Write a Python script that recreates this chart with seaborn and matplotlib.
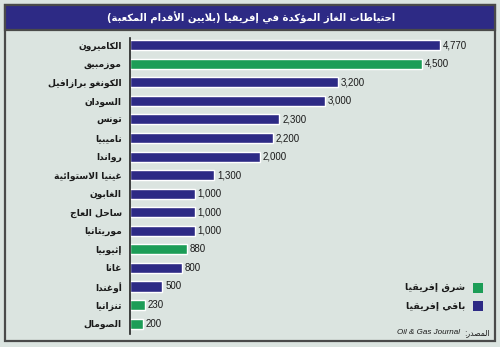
import matplotlib
matplotlib.use("Agg")
import matplotlib.pyplot as plt
import seaborn as sns
import pandas as pd
from matplotlib.patches import Rectangle

# ---------------- data ----------------
title = "احتياطات الغاز المؤكدة في إفريقيا (بلايين الأقدام المكعبة)"
countries = ["الكاميرون", "موزمبيق", "الكونغو برازافيل", "السودان", "تونس", "ناميبيا",
             "رواندا", "غينيا الاستوائية", "الغابون", "ساحل العاج", "موريتانيا",
             "إثيوبيا", "غانا", "أوغندا", "تنزانيا", "الصومال"]
reserves = [4770, 4500, 3200, 3000, 2300, 2200, 2000, 1300, 1000, 1000, 1000,
            880, 800, 500, 230, 200]
region = ["rest", "east", "rest", "rest", "rest", "rest", "rest", "rest", "rest",
          "rest", "rest", "east", "rest", "rest", "east", "east"]
legend_labels = {"east": "شرق إفريقيا", "rest": "باقي إفريقيا"}
source_ar = "المصدر:"
source_en = "Oil & Gas Journal"

NAVY = "#2d2a85"
GREEN = "#1c9d57"
BG = "#dbe4e0"
palette = {"east": GREEN, "rest": NAVY}

# ------------- minimal Arabic shaping (matplotlib has no RTL shaping) -------------
FORMS = {}
for ch, s in [('\u0622', 0xFE81), ('\u0623', 0xFE83), ('\u0624', 0xFE85), ('\u0625', 0xFE87),
              ('\u0627', 0xFE8D), ('\u0629', 0xFE93), ('\u062F', 0xFEA9), ('\u0630', 0xFEAB),
              ('\u0631', 0xFEAD), ('\u0632', 0xFEAF), ('\u0648', 0xFEED), ('\u0649', 0xFEEF)]:
    FORMS[ch] = (chr(s), chr(s + 1), None, None)
for ch, s in [('\u0626', 0xFE89), ('\u0628', 0xFE8F), ('\u062A', 0xFE95), ('\u062B', 0xFE99),
              ('\u062C', 0xFE9D), ('\u062D', 0xFEA1), ('\u062E', 0xFEA5), ('\u0633', 0xFEB1),
              ('\u0634', 0xFEB5), ('\u0635', 0xFEB9), ('\u0636', 0xFEBD), ('\u0637', 0xFEC1),
              ('\u0638', 0xFEC5), ('\u0639', 0xFEC9), ('\u063A', 0xFECD), ('\u0641', 0xFED1),
              ('\u0642', 0xFED5), ('\u0643', 0xFED9), ('\u0644', 0xFEDD), ('\u0645', 0xFEE1),
              ('\u0646', 0xFEE5), ('\u0647', 0xFEE9), ('\u064A', 0xFEF1)]:
    FORMS[ch] = tuple(chr(s + i) for i in range(4))
FORMS['\u0621'] = ('\uFE80', None, None, None)
LAMALEF = {'\u0627': (0xFEFB, 0xFEFC), '\u0623': (0xFEF7, 0xFEF8),
           '\u0625': (0xFEF9, 0xFEFA), '\u0622': (0xFEF5, 0xFEF6)}


def shape(text):
    units = []
    i = 0
    while i < len(text):
        c = text[i]
        if c == '\u0644' and i + 1 < len(text) and text[i + 1] in LAMALEF:
            units.append(('LA', text[i + 1]))
            i += 2
        else:
            units.append(('C', c))
            i += 1

    def can_next(u):
        if u[0] == 'LA':
            return False
        fm = FORMS.get(u[1])
        return fm is not None and fm[2] is not None

    def can_prev(u):
        if u[0] == 'LA':
            return True
        fm = FORMS.get(u[1])
        return fm is not None and fm[1] is not None

    out = []
    for k, u in enumerate(units):
        jp = k > 0 and can_next(units[k - 1]) and can_prev(u)
        jn = k + 1 < len(units) and can_next(u) and can_prev(units[k + 1])
        if u[0] == 'LA':
            a, b = LAMALEF[u[1]]
            out.append(chr(b if jp else a))
            continue
        fm = FORMS.get(u[1])
        if fm is None:
            out.append(u[1])
        elif jp and jn:
            out.append(fm[3])
        elif jp:
            out.append(fm[1])
        elif jn:
            out.append(fm[2])
        else:
            out.append(fm[0])
    vis = ''.join(reversed(out))
    return vis.translate(str.maketrans('()', ')('))


# ---------------- figure ----------------
sns.set_theme(style="white")
plt.rcParams['font.family'] = ['DejaVu Sans']

W, H = 500, 347
fig = plt.figure(figsize=(W / 100, H / 100), dpi=100, facecolor=BG)


def fx(px):
    return px / W


def fy(py):
    return 1 - py / H


# frame and title bar
fig.patches.append(Rectangle((fx(5), fy(341)), fx(490), (341 - 5) / H, transform=fig.transFigure,
                             facecolor='none', edgecolor='#4a4a4a', linewidth=1.6, zorder=0))
fig.patches.append(Rectangle((fx(5), fy(30)), fx(490), 25 / H, transform=fig.transFigure,
                             facecolor=NAVY, edgecolor='#4a4a4a', linewidth=1.6, zorder=1))
fig.text(fx(251), fy(17.5), shape(title), color='white', fontsize=7.2, fontweight='bold',
         ha='center', va='center')

# axes
ax_left, ax_right, ax_top, ax_bot = 130, 480, 38, 334
ax = fig.add_axes([fx(ax_left), fy(ax_bot), fx(ax_right - ax_left), (ax_bot - ax_top) / H])
ax.set_facecolor('none')

df = pd.DataFrame({"country": countries, "reserves": reserves, "region": region})
sns.barplot(data=df, x="reserves", y="country", hue="region", palette=palette,
            dodge=False, legend=False, width=0.54, saturation=1, ax=ax, zorder=2)

px_per_unit = 310 / 4770
ax.set_xlim(0, (ax_right - ax_left) / px_per_unit)
ax.set_ylim(15.56, -0.39)

for sp in ["top", "right", "bottom"]:
    ax.spines[sp].set_visible(False)
ax.spines["left"].set_color('#222222')
ax.spines["left"].set_linewidth(1.2)
ax.set_xticks([])
ax.set_xlabel("")
ax.set_ylabel("")
ax.set_yticks(range(len(countries)))
ax.set_yticklabels([shape(c) for c in countries], fontsize=6.6, fontweight='bold', color='#1a1a1a')
ax.tick_params(axis='y', length=0, pad=6)

for i, v in enumerate(reserves):
    ax.text(v + 40, i, f"{v:,}", va='center', ha='left', fontsize=7,
            family='Liberation Sans', color='#1a1a1a')

# legend
for lab, py in [("east", 287.5), ("rest", 306)]:
    fig.patches.append(Rectangle((fx(473), fy(py + 5)), fx(10), 10 / H, transform=fig.transFigure,
                                 facecolor=palette[lab], edgecolor='none'))
    fig.text(fx(465), fy(py), shape(legend_labels[lab]), fontsize=6.8, fontweight='bold',
             ha='right', va='center', color='#1a1a1a')

# source
fig.text(fx(490), fy(333), shape(source_ar), fontsize=5.5, ha='right', va='center',
         color='#1a1a1a')
fig.text(fx(460), fy(333), source_en, fontsize=5.8, style='italic', family='Liberation Sans',
         ha='right', va='center', color='#1a1a1a')

fig.savefig("out.png", dpi=100, facecolor=BG)
